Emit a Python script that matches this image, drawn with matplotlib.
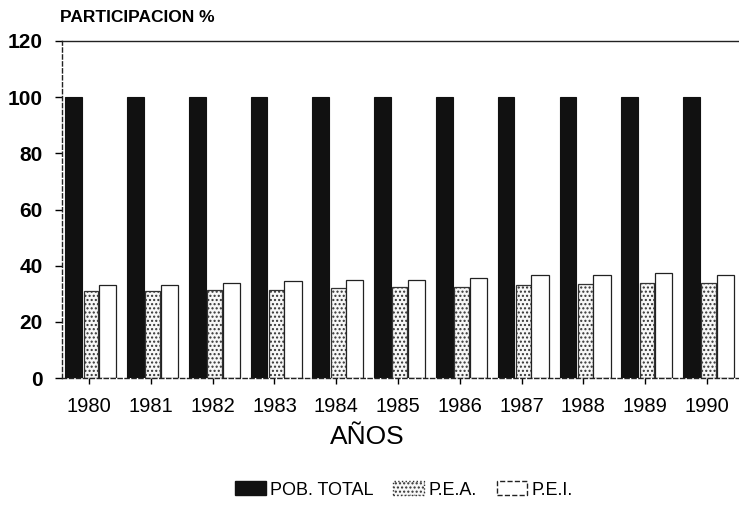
import matplotlib
matplotlib.use("Agg")
import matplotlib.pyplot as plt
from matplotlib.patches import Patch
import numpy as np

years = ["1980", "1981", "1982", "1983", "1984", "1985", "1986", "1987", "1988", "1989", "1990"]
pob_total = [100, 100, 100, 100, 100, 100, 100, 100, 100, 100, 100]
pea = [31.0, 31.0, 31.5, 31.5, 32.0, 32.5, 32.5, 33.0, 33.5, 34.0, 34.0]
pei = [33.0, 33.0, 34.0, 34.5, 35.0, 35.0, 35.5, 36.5, 36.5, 37.5, 36.5]
yticks = [0, 20, 40, 60, 80, 100, 120]

plt.rcParams['font.family'] = ['Liberation Sans', 'DejaVu Sans']
plt.rcParams['hatch.color'] = '#888888'

fig = plt.figure(figsize=(7.39, 5.07), dpi=100)
ax = fig.add_axes([62/739, 1 - 378/507, (739 - 62)/739, (378 - 41)/507])

x = np.arange(len(years))
ax.bar(x - 0.25, pob_total, width=0.27, color='#111111', edgecolor='#111111', linewidth=0.8)
ax.bar(x + 0.03, pea, width=0.24, color='#f7f7f7', edgecolor='#333333', linewidth=0.9,
       hatch='....')
ax.bar(x + 0.30, pei, width=0.28, color='white', edgecolor='#222222', linewidth=0.9)

ax.set_xlim(-0.44, 10.52)
ax.set_ylim(0, 120)
ax.set_yticks(yticks)
ax.set_yticklabels([str(v) for v in yticks], fontsize=15, fontweight='bold')
ax.set_xticks(x)
ax.set_xticklabels(years, fontsize=14.5)
ax.tick_params(axis='y', direction='out', length=5, width=1, pad=9)
ax.tick_params(axis='x', direction='out', length=4, width=1, pad=10)

ax.spines['right'].set_visible(False)
for s in ['top', 'left', 'bottom']:
    ax.spines[s].set_linewidth(1.0)
    ax.spines[s].set_color('#222222')
ax.spines['bottom'].set_linestyle((0, (3, 2)))
ax.spines['left'].set_linestyle((0, (3, 2)))

fig.text(60/739, 1 - 17/507, "PARTICIPACION %", fontsize=12.5, fontweight='bold',
         ha='left', va='center')
fig.text(367/739, 1 - 437/507, "AÑOS", fontsize=19, ha='center', va='center')

handles = [Patch(facecolor='#111111', edgecolor='#111111'),
           Patch(facecolor='#f7f7f7', edgecolor='#333333', hatch='....', linestyle=':'),
           Patch(facecolor='white', edgecolor='#222222', linestyle='--')]
fig.legend(handles, ["POB. TOTAL", "P.E.A.", "P.E.I."], loc='center',
           bbox_to_anchor=(404/739, 1 - 490/507), ncol=3, frameon=False,
           fontsize=13, handlelength=1.7, handleheight=0.8, columnspacing=1.1,
           handletextpad=0.25)

fig.savefig("out.png", dpi=100)
